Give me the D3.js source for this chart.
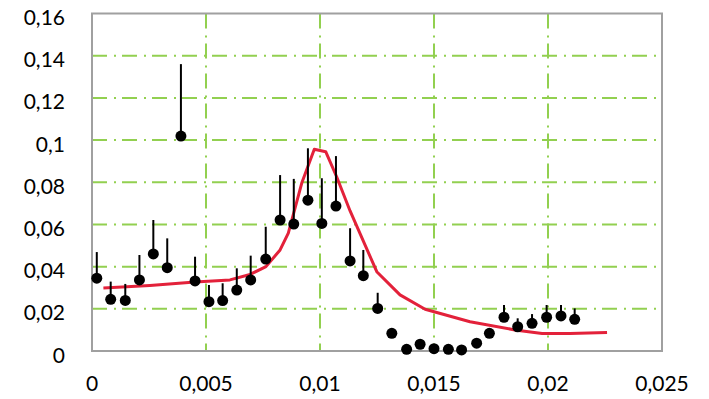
<!DOCTYPE html>
<html>
<head>
<meta charset="utf-8">
<script src="https://cdn.jsdelivr.net/npm/d3@7"></script>
<style>
  body { margin: 0; background: #fff; }
  .tick-label { font-family: Lato, "Open Sans", sans-serif; font-size: 21px; fill: #000; }
</style>
</head>
<body>
<div class="chart"></div>
<script>
// measured points (x, y) and top of the upper error bar (null = no bar)
var pointX = [0.00021, 0.00082, 0.00146, 0.00208, 0.00269, 0.0033, 0.0039, 0.00452, 0.00513, 0.00573,
  0.00635, 0.00696, 0.00762, 0.00825, 0.00885, 0.00947, 0.01008, 0.0107, 0.01132, 0.0119,
  0.01253, 0.01315, 0.0138, 0.01439, 0.015, 0.01563, 0.01621, 0.01687, 0.01743, 0.01807,
  0.01867, 0.0193, 0.01994, 0.02057, 0.02117];
var pointY = [0.0345, 0.0245, 0.0240, 0.0337, 0.0460, 0.0395, 0.1019, 0.0332, 0.0234, 0.0239,
  0.0289, 0.0337, 0.0436, 0.0621, 0.0602, 0.0715, 0.0605, 0.0687, 0.0427, 0.0357,
  0.0202, 0.0084, 0.0008, 0.0032, 0.0011, 0.0008, 0.0005, 0.0037, 0.0084, 0.0160,
  0.0115, 0.0131, 0.0160, 0.0166, 0.0150];
var errTop = [0.0469, 0.0329, 0.0318, 0.0455, 0.0621, 0.0534, 0.1360, 0.0447, 0.0313, 0.0321,
  0.0392, 0.0452, 0.0589, 0.0834, 0.0816, 0.0961, 0.0819, 0.0924, 0.0582, 0.0479,
  0.0276, null, null, null, null, null, null, null, null, 0.0218,
  0.0155, 0.0175, 0.0218, 0.0218, 0.0202];

// model curve
var modelX = [0.0005, 0.00254, 0.00452, 0.00605, 0.00693, 0.00763, 0.00825, 0.00861, 0.0092, 0.00975,
  0.01025, 0.01073, 0.01132, 0.01249, 0.01351, 0.01461, 0.01658, 0.01855, 0.01974, 0.02096, 0.02259];
var modelY = [0.0299, 0.0311, 0.0327, 0.0337, 0.0363, 0.0400, 0.0479, 0.0559, 0.0796, 0.0956,
  0.0945, 0.0826, 0.0664, 0.0376, 0.0266, 0.0198, 0.0139, 0.0100, 0.0083, 0.0083, 0.0088];

var xTicks = [0, 0.005, 0.01, 0.015, 0.02, 0.025];
var yTicks = [0, 0.02, 0.04, 0.06, 0.08, 0.1, 0.12, 0.14, 0.16];

var svgWidth = 709;
var svgHeight = 399;
var margin = { top: 13.5, right: 47, bottom: 48, left: 92 };
var width = svgWidth - margin.left - margin.right;
var height = svgHeight - margin.top - margin.bottom;

var svg = d3.select(".chart")
  .append("svg")
  .attr("width", svgWidth)
  .attr("height", svgHeight);

var chart = svg.append("g")
  .attr("transform", "translate(" + margin.left + "," + margin.top + ")");

var xScale = d3.scaleLinear().domain([0, 0.025]).range([0, width]);
var yScale = d3.scaleLinear().domain([0, 0.16]).range([height, 0]);

var fmt = function(d) { return String(d).replace(".", ","); };

// gridlines
var grid = chart.append("g")
  .attr("stroke", "#92d050")
  .attr("stroke-width", 2)
  .attr("stroke-dasharray", "15,7,2,6");

grid.selectAll(".hgrid")
  .data(yTicks.filter(function(d) { return d > 0 && d < 0.16; }))
  .enter().append("line")
    .attr("x1", 0).attr("x2", width)
    .attr("y1", function(d) { return yScale(d); })
    .attr("y2", function(d) { return yScale(d); });

grid.selectAll(".vgrid")
  .data(xTicks.filter(function(d) { return d > 0 && d < 0.025; }))
  .enter().append("line")
    .attr("y1", 0).attr("y2", height)
    .attr("x1", function(d) { return xScale(d); })
    .attr("x2", function(d) { return xScale(d); });

// plot border
chart.append("rect")
  .attr("width", width)
  .attr("height", height)
  .attr("fill", "none")
  .attr("stroke", "#a0a0a0")
  .attr("stroke-width", 2);

// tick labels
chart.selectAll(".ylab")
  .data(yTicks)
  .enter().append("text")
    .attr("class", "tick-label")
    .attr("text-anchor", "end")
    .attr("x", -27)
    .attr("y", function(d) { return yScale(d) + 11.5; })
    .text(fmt);

chart.selectAll(".xlab")
  .data(xTicks)
  .enter().append("text")
    .attr("class", "tick-label")
    .attr("text-anchor", "middle")
    .attr("x", function(d) { return xScale(d); })
    .attr("y", height + 40)
    .text(fmt);

// model line
var line = d3.line()
  .x(function(d, i) { return xScale(modelX[i]); })
  .y(function(d, i) { return yScale(modelY[i]); });

chart.append("path")
  .datum(modelX)
  .attr("d", line)
  .attr("fill", "none")
  .attr("stroke", "#e3213a")
  .attr("stroke-width", 3)
  .attr("stroke-linejoin", "round");

// error bars
chart.selectAll(".err")
  .data(pointX.map(function(x, i) { return i; }).filter(function(i) { return errTop[i] !== null; }))
  .enter().append("line")
    .attr("x1", function(i) { return xScale(pointX[i]); })
    .attr("x2", function(i) { return xScale(pointX[i]); })
    .attr("y1", function(i) { return yScale(pointY[i]); })
    .attr("y2", function(i) { return yScale(errTop[i]); })
    .attr("stroke", "#000")
    .attr("stroke-width", 2);

// points
chart.selectAll("circle")
  .data(pointX)
  .enter().append("circle")
    .attr("cx", function(d) { return xScale(d); })
    .attr("cy", function(d, i) { return yScale(pointY[i]); })
    .attr("r", 5.5)
    .attr("fill", "#000");
</script>
</body>
</html>
